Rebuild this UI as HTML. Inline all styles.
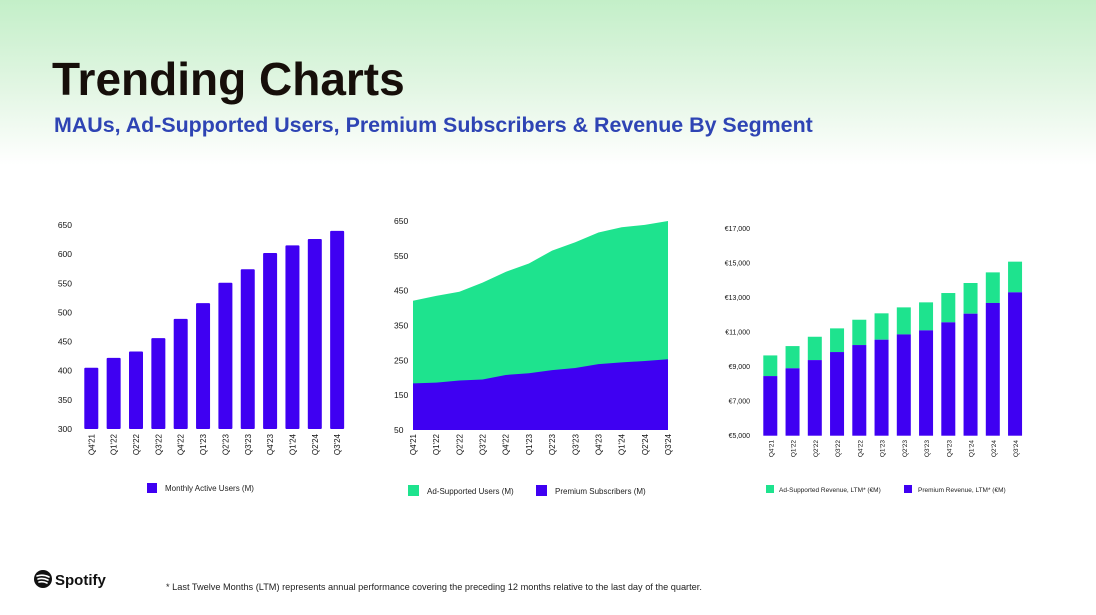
<!DOCTYPE html>
<html><head><meta charset="utf-8"><style>
html,body{margin:0;padding:0}
body{width:1096px;height:615px;overflow:hidden;background:linear-gradient(180deg,#c3efc8 0px,#e3f6e4 90px,#ffffff 165px,#fff 615px);font-family:"Liberation Sans",Arial,sans-serif;position:relative}
.t{font-family:"Liberation Sans",Arial,sans-serif}
</style></head><body>
<svg width="1096" height="615" style="position:absolute;left:0;top:0">
<text x="52" y="95" font-size="46" font-weight="bold" fill="#160f0a" class="t">Trending Charts</text>
<text x="54" y="132" font-size="21.4" font-weight="bold" fill="#2e44b4" class="t">MAUs, Ad-Supported Users, Premium Subscribers &amp; Revenue By Segment</text>
<g id="c1"></g>
<g id="c2"></g>
<g id="c3"></g>
<g>
<circle cx="43" cy="579" r="9" fill="#111"/>
<path d="M37 576 q6 -2 12 1 M38 579 q5 -1.5 10 1 M39 582 q4 -1 8 1" stroke="#fff" stroke-width="1.6" fill="none" stroke-linecap="round"/>
<text x="55" y="585" font-size="15" font-weight="bold" fill="#111" class="t">Spotify</text>
</g>
<text x="166" y="590" font-size="9.2" fill="#222" class="t">* Last Twelve Months (LTM) represents annual performance covering the preceding 12 months relative to the last day of the quarter.</text>
</svg>
<script>
const quarters=["Q4'21","Q1'22","Q2'22","Q3'22","Q4'22","Q1'23","Q2'23","Q3'23","Q4'23","Q1'24","Q2'24","Q3'24"];
const mauValues=[405,422,433,456,489,516,551,574,602,615,626,640];
const mauTicks=[300,350,400,450,500,550,600,650];
const premiumSubs=[184,186,192,195,208,213,222,228,239,244,248,253];
const adUsers=[237,249,255,278,296,315,343,361,378,388,391,397];
const usersTicks=[50,150,250,350,450,550,650];
const premiumRev=[8450,8900,9375,9840,10245,10555,10860,11095,11560,12060,12680,13295];
const adRev=[1195,1285,1350,1370,1465,1525,1565,1620,1695,1775,1770,1775];
const revTicks=[5000,7000,9000,11000,13000,15000,17000];
const PURPLE="#3f00f2",GREEN="#1ee38e";
const NS="http://www.w3.org/2000/svg";
function mk(parent,tag,attrs,txt){const e=document.createElementNS(NS,tag);for(const k in attrs)e.setAttribute(k,attrs[k]);if(txt!==undefined)e.textContent=txt;parent.appendChild(e);return e;}
function scale(d0,d1,r0,r1){return v=>r0+(v-d0)*(r1-r0)/(d1-d0);}
function xLabels(g,xs,y,fs){quarters.forEach((q,i)=>{const t=mk(g,'text',{x:0,y:0,'font-size':fs,fill:'#111','text-anchor':'end',transform:`translate(${xs(i)+3},${y}) rotate(-90)`,class:'t'},q);

});}
// chart 1
(function(){const g=document.getElementById('c1');const y=scale(300,650,429,225);const x0=84.3,step=22.35,bw=14;const xs=i=>x0+i*step+bw/2;
mauTicks.forEach(v=>{const t=mk(g,'text',{x:72,y:y(v)+3,'font-size':8.5,fill:'#111','text-anchor':'end',class:'t'},v);

});
mauValues.forEach((v,i)=>{const r=mk(g,'rect',{x:x0+i*step,y:y(v),width:bw,height:y(300)-y(v),fill:PURPLE,rx:1});

});
xLabels(g,xs,434,8);
const l=mk(g,'rect',{x:147,y:483,width:10,height:10,fill:PURPLE});


mk(g,'text',{x:165,y:491,'font-size':8,fill:'#222',class:'t'},'Monthly Active Users (M)');})();
// chart 2
(function(){const g=document.getElementById('c2');const y=scale(50,650,430,221);const x=scale(0,11,413,668);
usersTicks.forEach(v=>{const t=mk(g,'text',{x:394,y:y(v)+3,'font-size':8.5,fill:'#111',class:'t'},v);

});
const tot=adUsers.map((a,i)=>a+premiumSubs[i]);
let top=tot.map((v,i)=>`${x(i)},${y(v)}`).join(' L');
const a=mk(g,'path',{d:`M${x(0)},${y(50)} L${top} L${x(11)},${y(50)} Z`,fill:GREEN});


let pt=premiumSubs.map((v,i)=>`${x(i)},${y(v)}`).join(' L');
const p=mk(g,'path',{d:`M${x(0)},${y(50)} L${pt} L${x(11)},${y(50)} Z`,fill:PURPLE});


xLabels(g,x,434,8);
const l1=mk(g,'rect',{x:408,y:485,width:11,height:11,fill:GREEN});


mk(g,'text',{x:427,y:494,'font-size':8,fill:'#222',class:'t'},'Ad-Supported Users (M)');
const l2=mk(g,'rect',{x:536,y:485,width:11,height:11,fill:PURPLE});


mk(g,'text',{x:555,y:494,'font-size':8,fill:'#222',class:'t'},'Premium Subscribers (M)');})();
// chart 3
(function(){const g=document.getElementById('c3');const y=scale(5000,17000,435.7,228.3);const x0=763.3,step=22.25,bw=14;const xs=i=>x0+i*step+bw/2;
revTicks.forEach(v=>{const t=mk(g,'text',{x:750,y:y(v)+2.5,'font-size':7,fill:'#111','text-anchor':'end',class:'t'},'€'+v.toLocaleString('en-US'));

});
premiumRev.forEach((v,i)=>{const tot=v+adRev[i];
const r1=mk(g,'rect',{x:x0+i*step,y:y(tot),width:bw,height:y(v)-y(tot),fill:GREEN});


const r2=mk(g,'rect',{x:x0+i*step,y:y(v),width:bw,height:y(5000)-y(v),fill:PURPLE});

});
xLabels(g,xs,440,6.5);
const l1=mk(g,'rect',{x:766,y:485,width:8,height:8,fill:GREEN});


mk(g,'text',{x:779,y:492,'font-size':6.5,fill:'#222',class:'t'},'Ad-Supported Revenue, LTM* (€M)');
const l2=mk(g,'rect',{x:904,y:485,width:8,height:8,fill:PURPLE});


mk(g,'text',{x:918,y:492,'font-size':6.5,fill:'#222',class:'t'},'Premium Revenue, LTM* (€M)');})();
</script>
</body></html>
